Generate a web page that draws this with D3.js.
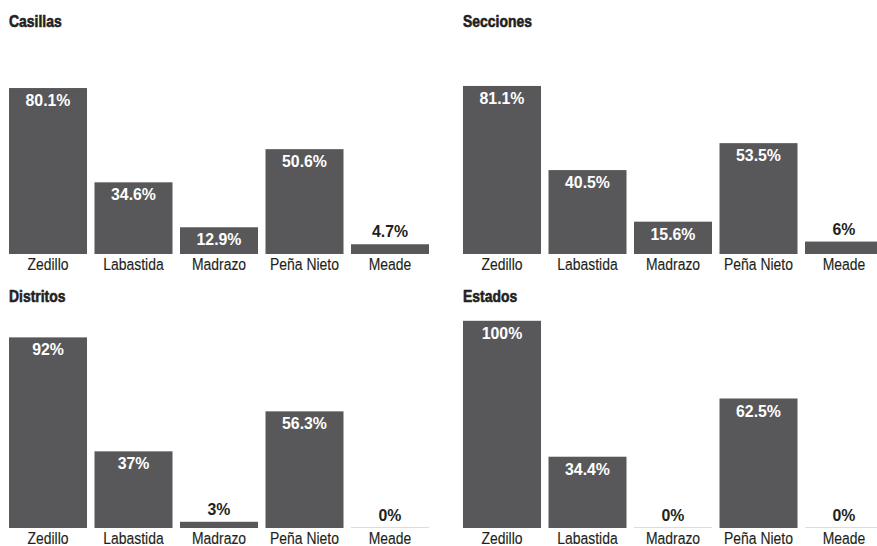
<!DOCTYPE html>
<html>
<head>
<meta charset="utf-8">
<script src="https://cdn.jsdelivr.net/npm/d3@7"></script>
<style>
  html, body { margin: 0; padding: 0; background: #fff; }
  svg { display: block; }
</style>
</head>
<body>
<svg id="chart" width="877" height="546"></svg>
<script>
// Candidates shared by every panel
const candidates = ["Zedillo", "Labastida", "Madrazo", "Peña Nieto", "Meade"];

// Share (%) won by each candidate, one array per panel
const casillas  = [80.1, 34.6, 12.9, 50.6, 4.7];
const secciones = [81.1, 40.5, 15.6, 53.5, 6];
const distritos = [92, 37, 3, 56.3, 0];
const estados   = [100, 34.4, 0, 62.5, 0];

const panelTitles = ["Casillas", "Secciones", "Distritos", "Estados"];
const panelValues = [casillas, secciones, distritos, estados];

const fmt = v => (Math.round(v * 10) / 10) + "%";

const svg = d3.select("#chart");

const barColor = "#58585a";
const inkColor = "#231f20";
const sans = "'Liberation Sans', Arial, sans-serif";

// panel grid: 2 columns x 2 rows
const colX = [5.25, 459.25];
const rowBase = [254, 528];
const rowTitle = [27, 301.5];
const bandWidthTotal = 427.5;
const plotHeight = 207.2;

// horizontally squeezed text, used for a condensed look
function squeezed(sel, cx, cy, sx) {
  return sel.attr("x", 0).attr("y", 0)
    .attr("transform", `translate(${cx},${cy}) scale(${sx},1)`);
}

panelValues.forEach((values, i) => {
  const col = i % 2, row = Math.floor(i / 2);
  const g = svg.append("g");

  const x = d3.scaleBand()
    .domain(candidates)
    .range([colX[col], colX[col] + bandWidthTotal])
    .paddingInner(0.0877)
    .paddingOuter(0.0439);

  const y = d3.scaleLinear()
    .domain([0, 100])
    .range([rowBase[row], rowBase[row] - plotHeight]);

  // panel title (heavy, condensed)
  g.append("text")
    .call(squeezed, x(candidates[0]), rowTitle[row], 0.82)
    .attr("font-family", sans)
    .attr("font-weight", "bold")
    .attr("font-size", 17)
    .attr("fill", inkColor)
    .attr("stroke", inkColor)
    .attr("stroke-width", 0.6)
    .text(panelTitles[i]);

  const data = candidates.map((c, k) => ({ name: c, value: values[k] }));

  // faint baseline under each bar (visible only for zero values)
  g.selectAll("line.base")
    .data(data)
    .join("line")
    .attr("class", "base")
    .attr("x1", d => x(d.name))
    .attr("x2", d => x(d.name) + x.bandwidth())
    .attr("y1", y(0) - 0.5)
    .attr("y2", y(0) - 0.5)
    .attr("stroke", "#dcdcdc")
    .attr("stroke-width", 1);

  g.selectAll("rect.bar")
    .data(data)
    .join("rect")
    .attr("class", "bar")
    .attr("x", d => x(d.name))
    .attr("width", x.bandwidth())
    .attr("y", d => y(d.value))
    .attr("height", d => y(0) - y(d.value))
    .attr("fill", barColor);

  // value labels: inside (white) for tall bars, above (dark) for short ones
  const inside = d => (y(0) - y(d.value)) > 20;
  g.selectAll("text.value")
    .data(data)
    .join("text")
    .attr("class", "value")
    .each(function (d) {
      d3.select(this).call(squeezed,
        x(d.name) + x.bandwidth() / 2,
        inside(d) ? y(d.value) + 18 : y(d.value) - 7,
        0.96);
    })
    .attr("text-anchor", "middle")
    .attr("font-family", sans)
    .attr("font-weight", "bold")
    .attr("font-size", 16.5)
    .attr("fill", d => inside(d) ? "#ffffff" : inkColor)
    .text(d => fmt(d.value));

  // category labels
  g.selectAll("text.cat")
    .data(data)
    .join("text")
    .attr("class", "cat")
    .each(function (d) {
      d3.select(this).call(squeezed,
        x(d.name) + x.bandwidth() / 2, y(0) + 16, 0.82);
    })
    .attr("text-anchor", "middle")
    .attr("font-family", sans)
    .attr("font-size", 17)
    .attr("fill", inkColor)
    .attr("stroke", inkColor)
    .attr("stroke-width", 0.15)
    .text(d => d.name);
});
</script>
</body>
</html>
